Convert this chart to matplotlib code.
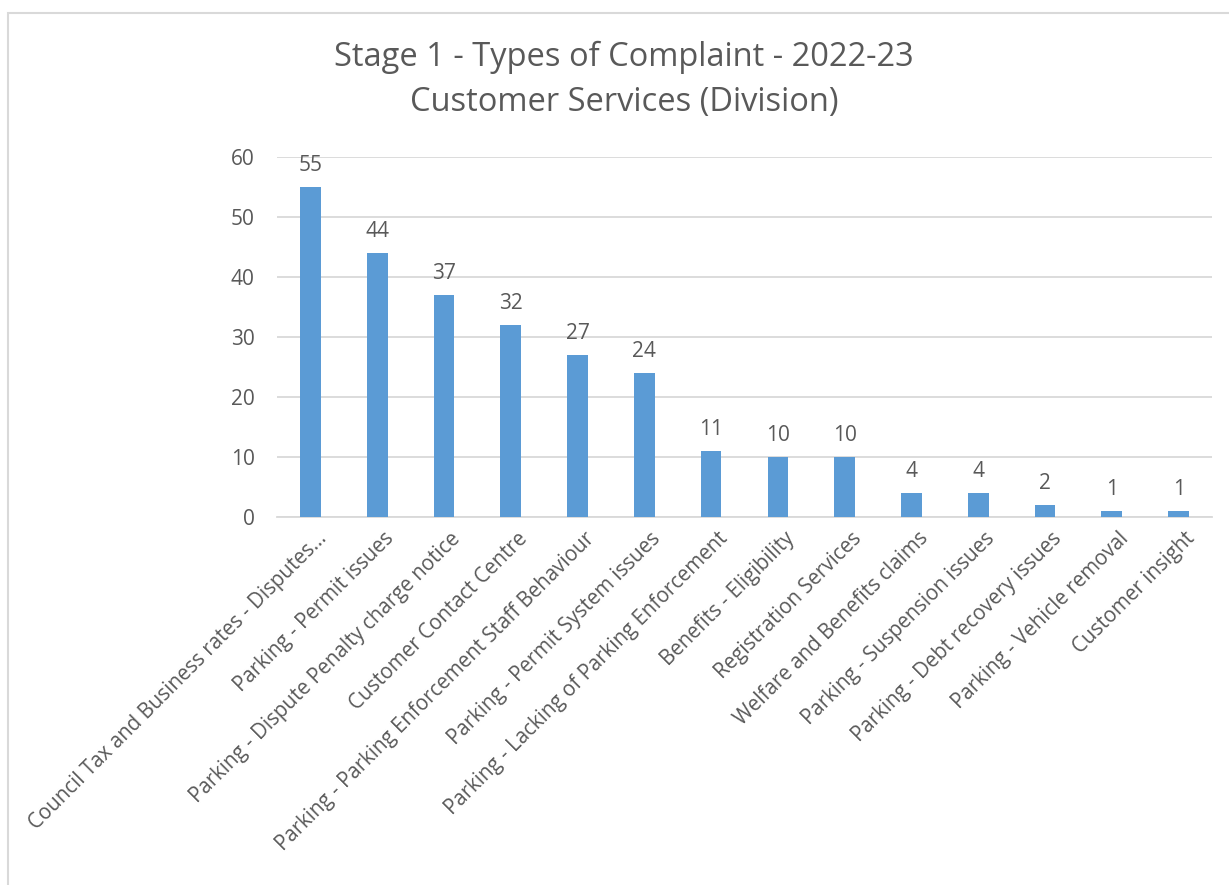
import matplotlib
matplotlib.use("Agg")
import matplotlib.pyplot as plt
from matplotlib.patches import Rectangle
from matplotlib.transforms import ScaledTranslation

categories = [
    "Council Tax and Business rates - Disputes...",
    "Parking - Permit issues",
    "Parking - Dispute Penalty charge notice",
    "Customer Contact Centre",
    "Parking - Parking Enforcement Staff Behaviour",
    "Parking - Permit System issues",
    "Parking - Lacking of Parking Enforcement",
    "Benefits - Eligibility",
    "Registration Services",
    "Welfare and Benefits claims",
    "Parking - Suspension issues",
    "Parking - Debt recovery issues",
    "Parking - Vehicle removal",
    "Customer insight",
]
values = [55, 44, 37, 32, 27, 24, 11, 10, 10, 4, 4, 2, 1, 1]
yticks = [0, 10, 20, 30, 40, 50, 60]
title = "Stage 1 - Types of Complaint - 2022-23\nCustomer Services (Division)"

plt.rcParams['font.family'] = ['Open Sans', 'DejaVu Sans']
text_color = '#595959'

W, H = 1229, 885
fig = plt.figure(figsize=(W / 100, H / 100), dpi=100)
fig.patches.append(Rectangle((8 / W, -0.1), 1.0, 1.1 - 13 / H, transform=fig.transFigure,
                             fill=False, edgecolor='#d9d9d9', linewidth=1.5))

ax = fig.add_axes([277 / W, 1 - 517 / H, (1212 - 277) / W, (517 - 157) / H])
x = list(range(len(categories)))
bars = ax.bar(x, values, width=0.31, color='#5b9bd5', zorder=3)
ax.set_xlim(-0.5, len(categories) - 0.5)
ax.set_ylim(0, 60)
ax.set_yticks(yticks)
ax.set_yticklabels([str(v) for v in yticks], fontsize=15, color=text_color)
ax.set_xticks(x)
ax.set_xticklabels(categories, rotation=45, ha='right', rotation_mode='anchor',
                   fontsize=14.8, color=text_color)
ax.tick_params(axis='both', length=0)
ax.tick_params(axis='y', pad=16)
ax.tick_params(axis='x', pad=8)
shift = ScaledTranslation(6 / 100, 0, fig.dpi_scale_trans)
for lbl in ax.get_xticklabels():
    lbl.set_transform(lbl.get_transform() + shift)
ax.grid(axis='y', color='#d9d9d9', linewidth=1.3, zorder=0)
for s in ['top', 'right', 'left']:
    ax.spines[s].set_visible(False)
ax.spines['bottom'].set_color('#d9d9d9')
ax.spines['bottom'].set_linewidth(1.3)

for b, v in zip(bars, values):
    ax.annotate(str(v), (b.get_x() + b.get_width() / 2, v), xytext=(0, 8),
                textcoords='offset points', ha='center', va='bottom',
                fontsize=15, color=text_color)

fig.text(624 / W, 1 - 80 / H, title, ha='center', va='center', fontsize=23.5,
         color=text_color, linespacing=1.45)

fig.savefig("out.png", dpi=100)
